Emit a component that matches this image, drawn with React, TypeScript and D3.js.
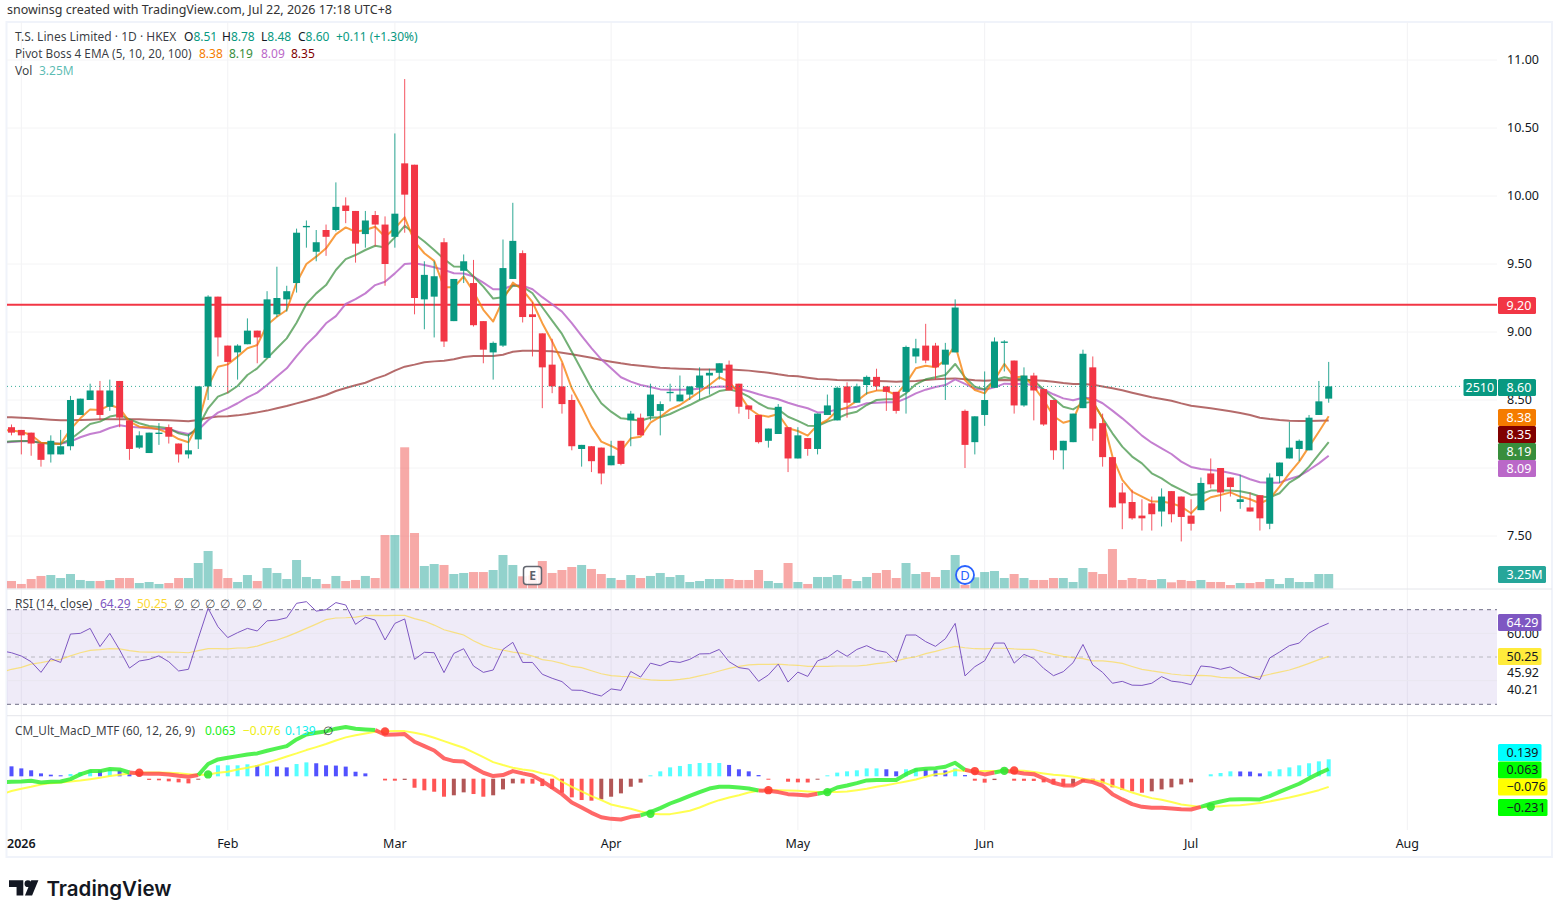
import * as d3 from 'd3'

const opens = [
  8.30,8.28,8.26,8.18,8.10,8.10,8.16,8.39,8.50,8.57,
  8.45,8.64,8.35,8.15,8.11,8.25,8.30,8.18,8.10,8.21,
  8.60,9.26,8.90,8.85,8.91,9.01,8.81,9.13,9.24,9.36,
  9.77,9.59,9.75,9.75,9.93,9.89,9.72,9.86,9.79,9.70,
  10.24,10.23,9.24,9.26,9.66,9.08,9.45,9.36,9.08,8.85,
  8.90,9.39,9.58,9.13,8.99,8.76,8.60,8.50,8.14,8.16,
  8.15,8.02,8.20,8.35,8.37,8.38,8.42,8.55,8.49,8.54,
  8.59,8.68,8.70,8.76,8.62,8.46,8.39,8.20,8.25,8.30,
  8.07,8.22,8.14,8.39,8.35,8.60,8.48,8.61,8.67,8.60,
  8.56,8.56,8.82,8.90,8.90,8.76,8.85,8.42,8.19,8.39,
  8.59,8.92,8.79,8.46,8.68,8.58,8.50,8.13,8.19,8.44,
  8.74,8.33,8.08,7.82,7.75,7.65,7.74,7.68,7.83,7.79,
  7.65,7.69,7.96,8.00,7.93,7.75,7.71,7.80,7.59,7.94,
  8.07,8.14,8.13,8.39,8.51,
]
const closes = [
  8.26,8.24,8.18,8.06,8.20,8.16,8.50,8.51,8.57,8.39,
  8.57,8.37,8.14,8.24,8.26,8.26,8.23,8.10,8.13,8.60,
  9.26,8.96,8.78,8.90,9.01,8.96,9.24,9.25,9.30,9.73,
  9.78,9.66,9.70,9.92,9.89,9.65,9.82,9.79,9.50,9.87,
  10.01,9.25,9.42,9.41,8.93,9.39,9.52,9.05,8.87,8.92,
  9.47,9.67,9.11,9.11,8.74,8.60,8.47,8.16,8.17,8.05,
  7.96,8.09,8.03,8.40,8.24,8.54,8.47,8.56,8.54,8.60,
  8.68,8.70,8.77,8.57,8.45,8.43,8.19,8.29,8.45,8.07,
  8.24,8.14,8.40,8.46,8.59,8.48,8.60,8.67,8.60,8.56,
  8.42,8.89,8.88,8.79,8.74,8.87,9.18,8.17,8.38,8.50,
  8.93,8.93,8.46,8.68,8.57,8.32,8.13,8.20,8.40,8.84,
  8.29,8.08,7.71,7.74,7.63,7.63,7.66,7.79,7.66,7.64,
  7.59,7.89,7.88,7.82,7.86,7.77,7.68,7.63,7.93,8.04,
  8.15,8.20,8.37,8.49,8.60,
]
const highs = [
  8.32,8.28,8.26,8.18,8.24,8.28,8.53,8.51,8.62,8.64,
  8.65,8.64,8.35,8.27,8.26,8.33,8.32,8.18,8.25,8.60,
  9.27,9.26,8.90,8.91,9.10,9.01,9.30,9.48,9.34,9.76,
  9.82,9.75,9.79,10.10,9.99,9.89,9.89,9.89,9.85,10.46,
  10.86,10.23,9.52,9.52,9.69,9.39,9.57,9.53,9.08,8.93,
  9.68,9.95,9.60,9.22,8.99,8.95,8.77,8.54,8.17,8.16,
  8.15,8.20,8.20,8.42,8.40,8.62,8.49,8.62,8.68,8.60,
  8.74,8.73,8.77,8.79,8.62,8.46,8.39,8.29,8.47,8.30,
  8.30,8.22,8.40,8.54,8.60,8.63,8.62,8.68,8.73,8.60,
  8.56,8.90,8.95,9.06,8.92,8.92,9.24,8.43,8.38,8.71,
  8.96,8.94,8.79,8.74,8.70,8.58,8.50,8.20,8.40,8.87,
  8.82,8.40,8.08,7.89,7.84,7.77,7.79,7.85,7.83,7.79,
  7.77,7.93,8.07,8.00,7.93,7.95,7.82,7.80,7.96,8.04,
  8.34,8.21,8.39,8.64,8.78,
]
const lows = [
  8.24,8.10,8.09,8.01,8.04,8.10,8.13,8.39,8.50,8.35,
  8.42,8.30,8.06,8.14,8.11,8.17,8.18,8.04,8.07,8.14,
  8.50,8.82,8.55,8.65,8.91,8.77,8.81,9.11,9.15,9.29,
  9.62,9.52,9.56,9.74,9.80,9.51,9.62,9.63,9.34,9.62,
  9.73,9.13,9.02,8.96,8.89,9.08,9.36,9.04,8.77,8.65,
  8.89,9.39,9.07,8.82,8.44,8.55,8.40,8.13,8.01,7.97,
  7.88,8.02,8.02,8.16,8.24,8.35,8.24,8.49,8.49,8.50,
  8.50,8.54,8.65,8.57,8.40,8.36,8.18,8.15,8.25,7.97,
  8.07,8.09,8.10,8.39,8.35,8.37,8.48,8.54,8.57,8.42,
  8.40,8.40,8.77,8.77,8.65,8.50,8.85,8.00,8.10,8.31,
  8.59,8.71,8.40,8.45,8.35,8.31,8.06,7.99,8.19,8.44,
  8.20,8.01,7.71,7.55,7.62,7.54,7.54,7.57,7.60,7.46,
  7.54,7.69,7.85,7.68,7.79,7.70,7.68,7.54,7.55,7.89,
  8.07,8.05,8.13,8.39,8.48,
]
// millions of shares
const volumes = [
  1.66,0.98,2.11,2.80,3.02,2.34,3.25,1.89,1.66,1.66,
  1.89,2.34,2.34,1.20,1.43,0.98,1.20,2.34,2.34,5.75,
  8.48,4.39,2.34,1.43,3.02,1.66,4.61,3.48,2.11,6.43,
  2.57,2.11,0.98,2.80,1.66,1.89,2.80,2.34,12.11,12.11,
  32.05,12.57,5.07,5.52,5.30,3.25,3.48,3.70,3.70,4.16,
  7.57,5.30,2.73,2.95,6.20,3.48,4.16,4.84,5.30,4.39,
  3.25,2.34,1.89,3.02,2.34,2.80,3.48,2.57,3.02,1.43,
  1.66,2.11,2.11,2.11,1.89,1.89,4.16,1.66,1.20,5.75,
  1.43,0.98,2.57,2.57,3.02,2.11,1.66,2.57,3.48,4.16,
  2.34,5.75,3.25,3.70,2.57,4.16,7.57,0.75,2.50,3.70,
  3.93,2.34,3.25,2.34,1.89,1.89,2.34,2.34,1.43,4.61,
  3.70,3.25,8.93,1.89,2.34,2.11,1.89,2.11,1.36,1.89,
  1.66,1.89,1.43,1.43,0.75,1.20,1.20,1.43,2.11,0.98,
  2.34,1.43,1.43,3.25,3.25,
]

// line series start one bar before the first candle, off the left edge
const ema5 = [
  8.28,8.275,8.267,8.243,8.186,8.182,8.177,8.284,8.365,8.431,8.427,8.463,8.439,8.341,8.304,8.297,8.284,8.255,8.213,8.189,
  8.329,8.598,8.745,8.762,8.819,8.880,8.904,9.051,9.112,9.162,9.362,9.500,9.554,9.615,9.718,9.769,9.737,9.750,9.774,9.700,
  9.762,9.843,9.665,9.579,9.523,9.329,9.329,9.408,9.297,9.163,9.077,9.236,9.363,9.310,9.219,9.065,8.930,8.782,8.586,8.451,
  8.304,8.194,8.162,8.125,8.218,8.230,8.333,8.377,8.431,8.463,8.512,8.561,8.610,8.667,8.635,8.549,8.439,8.390,8.377,8.397,
  8.292,8.272,8.238,8.316,8.353,8.422,8.446,8.493,8.549,8.569,8.569,8.537,8.622,8.733,8.752,8.740,8.794,8.904,8.647,8.573,
  8.549,8.647,8.765,8.667,8.672,8.598,8.500,8.382,8.333,8.353,8.525,8.488,8.365,8.084,7.912,7.826,7.790,7.753,7.753,7.741,
  7.716,7.667,7.741,7.785,7.802,7.821,7.790,7.770,7.741,7.772,7.863,7.961,8.047,8.157,8.267,8.38,
]
const ema10 = [
  8.191,8.196,8.199,8.199,8.184,8.179,8.179,8.211,8.267,8.324,8.341,8.378,8.392,8.358,8.329,8.309,8.302,8.292,8.255,8.238,
  8.304,8.439,8.525,8.554,8.603,8.684,8.733,8.806,8.880,8.953,9.068,9.206,9.284,9.345,9.456,9.536,9.566,9.603,9.634,9.622,
  9.696,9.781,9.721,9.665,9.603,9.537,9.481,9.479,9.408,9.334,9.246,9.256,9.341,9.334,9.285,9.182,9.084,8.986,8.855,8.721,
  8.586,8.476,8.414,8.365,8.358,8.348,8.370,8.373,8.397,8.431,8.463,8.500,8.529,8.566,8.578,8.561,8.525,8.476,8.439,8.431,
  8.377,8.346,8.311,8.309,8.341,8.365,8.397,8.414,8.463,8.500,8.505,8.505,8.549,8.615,8.652,8.667,8.684,8.765,8.667,8.598,
  8.578,8.647,8.667,8.654,8.652,8.642,8.578,8.512,8.451,8.431,8.476,8.488,8.365,8.255,8.157,8.084,8.034,7.961,7.924,7.875,
  7.839,7.802,7.809,7.834,7.834,7.834,7.829,7.814,7.790,7.785,7.814,7.892,7.937,8.010,8.101,8.19,
]
const ema20 = [
  8.186,8.191,8.196,8.196,8.186,8.182,8.179,8.194,8.226,8.250,8.265,8.294,8.314,8.304,8.297,8.292,8.287,8.287,8.265,8.250,
  8.280,8.351,8.407,8.439,8.476,8.520,8.554,8.610,8.672,8.733,8.823,8.907,8.978,9.064,9.117,9.206,9.242,9.284,9.345,9.370,
  9.431,9.500,9.505,9.493,9.476,9.457,9.432,9.430,9.408,9.363,9.314,9.314,9.344,9.341,9.314,9.256,9.204,9.150,9.065,8.971,
  8.881,8.799,8.733,8.667,8.635,8.610,8.596,8.578,8.576,8.576,8.578,8.583,8.591,8.600,8.598,8.583,8.564,8.542,8.522,8.505,
  8.480,8.458,8.439,8.409,8.412,8.431,8.439,8.451,8.476,8.480,8.483,8.483,8.512,8.549,8.576,8.596,8.610,8.652,8.618,8.583,
  8.576,8.593,8.620,8.618,8.620,8.608,8.578,8.542,8.512,8.498,8.517,8.512,8.476,8.422,8.365,8.304,8.238,8.186,8.145,8.103,
  8.047,8.008,7.993,7.985,7.978,7.963,7.946,7.917,7.895,7.892,7.892,7.919,7.941,7.985,8.034,8.09,
]
const ema100 = [
  8.375,8.373,8.370,8.365,8.360,8.355,8.351,8.351,8.353,8.355,8.358,8.358,8.358,8.358,8.358,8.355,8.353,8.351,8.348,8.343,
  8.353,8.370,8.378,8.380,8.387,8.397,8.409,8.422,8.439,8.456,8.475,8.495,8.515,8.537,8.566,8.588,8.608,8.627,8.657,8.681,
  8.716,8.745,8.760,8.777,8.784,8.789,8.799,8.816,8.823,8.823,8.823,8.833,8.855,8.863,8.863,8.860,8.858,8.848,8.836,8.823,
  8.811,8.794,8.782,8.770,8.760,8.752,8.745,8.738,8.733,8.730,8.728,8.725,8.725,8.725,8.725,8.721,8.716,8.708,8.701,8.689,
  8.679,8.674,8.664,8.654,8.652,8.647,8.645,8.645,8.642,8.640,8.637,8.635,8.637,8.640,8.647,8.652,8.657,8.659,8.652,8.645,
  8.642,8.645,8.647,8.645,8.647,8.645,8.642,8.635,8.625,8.618,8.618,8.613,8.600,8.586,8.571,8.554,8.537,8.520,8.507,8.495,
  8.475,8.458,8.448,8.439,8.429,8.417,8.404,8.390,8.370,8.360,8.353,8.348,8.346,8.346,8.348,8.35,
]

const rsi = [
  52.6,51.8,50.4,48.0,43.5,49.3,47.7,59.7,60.0,62.1,54.4,60.0,53.0,45.3,48.3,49.0,50.5,48.0,44.1,44.8,
  57.9,70.6,62.8,58.2,60.3,62.1,61.0,65.3,65.6,66.6,72.7,73.4,69.4,70.0,73.0,72.0,63.8,66.8,65.6,57.2,
  64.2,66.1,49.0,52.0,51.8,43.4,51.5,53.5,46.2,43.5,44.5,53.2,56.2,47.7,47.7,42.7,41.0,39.6,36.0,35.9,
  34.6,33.5,36.5,35.9,43.9,41.5,47.4,46.3,48.2,47.7,49.0,51.3,51.4,53.2,48.0,45.5,44.9,39.7,42.4,47.0,
  39.4,43.6,41.8,48.4,49.8,52.8,50.3,53.2,54.8,52.8,52.0,47.9,59.3,59.3,56.5,54.5,57.7,64.2,42.0,45.9,
  48.4,55.9,55.9,47.4,51.1,49.4,45.2,42.1,43.8,47.6,55.3,46.6,43.5,38.9,39.7,38.1,38.0,38.9,41.7,39.8,
  39.3,38.3,46.2,45.8,44.8,45.8,43.4,41.7,40.5,49.6,52.1,54.8,55.9,60.1,62.5,64.29,
]
const rsiMa = [
  43.6,44.8,45.6,47.0,47.6,48.4,49.0,50.5,51.8,52.8,53.1,53.5,53.4,52.7,52.2,52.1,52.1,52.1,52.0,51.8,
  52.7,53.5,53.5,53.4,53.8,53.9,54.6,56.0,57.2,58.6,60.3,62.1,63.9,65.8,66.5,66.6,66.9,67.5,67.6,67.5,
  67.6,67.6,66.2,65.2,63.5,61.5,60.4,59.3,56.9,54.9,53.7,52.9,52.1,51.5,50.4,48.9,48.3,47.3,46.0,45.5,
  44.2,42.9,42.1,41.8,41.7,40.8,40.3,40.1,40.1,40.5,41.1,42.0,42.9,44.1,45.2,46.0,46.7,46.9,46.9,47.0,
  46.7,46.5,46.0,46.0,46.0,46.2,46.2,46.2,46.6,47.2,47.6,48.3,49.4,50.1,51.4,52.4,53.5,54.5,53.9,53.5,
  53.4,53.7,53.7,53.4,53.2,53.2,52.1,51.1,50.3,49.7,49.3,48.4,48.4,47.9,47.3,46.0,44.8,44.1,43.5,42.8,
  42.4,42.1,42.2,42.0,41.4,41.2,41.2,41.4,41.7,42.7,43.6,44.5,45.8,47.3,48.9,50.25,
]

const macd = [
  -0.039,-0.036,-0.034,-0.029,-0.042,-0.036,-0.034,-0.016,0.021,0.047,0.047,0.063,0.060,0.036,0.029,0.026,0.026,0.021,0.010,0.003,
  0.016,0.102,0.138,0.151,0.164,0.177,0.185,0.206,0.224,0.242,0.294,0.333,0.346,0.357,0.378,0.391,0.378,0.372,0.367,0.331,
  0.333,0.336,0.276,0.242,0.208,0.146,0.125,0.122,0.076,0.034,0.008,0.016,0.047,0.029,0.013,-0.031,-0.081,-0.133,-0.198,-0.237,
  -0.279,-0.313,-0.326,-0.331,-0.310,-0.299,-0.273,-0.242,-0.206,-0.177,-0.146,-0.117,-0.089,-0.076,-0.076,-0.081,-0.089,-0.104,-0.107,-0.117,
  -0.133,-0.138,-0.143,-0.130,-0.115,-0.081,-0.065,-0.047,-0.026,-0.023,-0.023,-0.023,0.023,0.057,0.065,0.070,0.081,0.112,0.057,0.039,
  0.021,0.036,0.052,0.039,0.029,0.023,-0.010,-0.044,-0.065,-0.065,-0.026,-0.039,-0.068,-0.133,-0.174,-0.211,-0.232,-0.240,-0.240,-0.245,
  -0.250,-0.253,-0.232,-0.208,-0.190,-0.174,-0.172,-0.172,-0.174,-0.148,-0.115,-0.083,-0.052,-0.010,0.029,0.063,
]
const signal = [
  -0.133,-0.109,-0.091,-0.076,-0.057,-0.047,-0.042,-0.034,-0.026,-0.016,-0.005,0.008,0.018,0.029,0.034,0.036,0.036,0.034,0.031,0.023,
  0.016,0.021,0.034,0.042,0.060,0.073,0.089,0.112,0.135,0.161,0.185,0.211,0.234,0.258,0.286,0.310,0.326,0.341,0.354,0.357,
  0.359,0.359,0.346,0.331,0.307,0.281,0.255,0.229,0.193,0.156,0.117,0.094,0.073,0.060,0.049,0.029,0.013,-0.036,-0.076,-0.112,
  -0.148,-0.180,-0.214,-0.232,-0.247,-0.268,-0.286,-0.289,-0.289,-0.276,-0.263,-0.237,-0.206,-0.180,-0.159,-0.141,-0.120,-0.107,-0.102,-0.102,
  -0.104,-0.107,-0.112,-0.117,-0.117,-0.117,-0.112,-0.102,-0.091,-0.076,-0.063,-0.049,-0.034,-0.018,0.003,0.023,0.029,0.055,0.047,0.047,
  0.047,0.047,0.049,0.052,0.049,0.039,0.029,0.018,0.013,0.003,-0.013,-0.023,-0.039,-0.068,-0.094,-0.120,-0.143,-0.164,-0.177,-0.195,
  -0.214,-0.224,-0.234,-0.232,-0.227,-0.221,-0.219,-0.211,-0.203,-0.190,-0.174,-0.159,-0.141,-0.122,-0.102,-0.076,
]
const hist = [
  0.084,0.068,0.053,0.029,0.019,0.014,0.024,0.040,0.055,0.053,
  0.061,0.053,0.029,0.022,-0.022,-0.025,-0.033,-0.041,-0.049,-0.020,
  0.014,0.092,0.092,0.092,0.100,0.092,0.092,0.082,0.076,0.102,
  0.115,0.108,0.092,0.090,0.082,0.042,0.029,0,-0.026,-0.028,
  -0.022,-0.083,-0.103,-0.114,-0.153,-0.142,-0.119,-0.132,-0.153,-0.142,
  -0.096,-0.049,-0.050,-0.051,-0.070,-0.093,-0.122,-0.158,-0.179,-0.184,
  -0.174,-0.153,-0.127,-0.075,-0.043,0.014,0.045,0.076,0.087,0.102,
  0.110,0.110,0.110,0.095,0.061,0.045,0.016,-0.020,0,-0.036,
  -0.041,-0.042,-0.020,0.014,0.035,0.045,0.053,0.068,0.068,0.061,
  0.045,0.061,0.068,0.061,0.053,0.052,0.068,0.016,-0.028,-0.043,
  -0.023,0,-0.028,-0.029,-0.030,-0.041,-0.057,-0.070,-0.068,-0.036,
  -0.037,-0.049,-0.080,-0.101,-0.111,-0.122,-0.111,-0.096,-0.080,-0.057,
  -0.041,0,0.022,0.032,0.045,0.044,0.043,0.029,0.045,0.061,
  0.076,0.092,0.108,0.123,0.139,
]
// bars where the MACD crosses its signal line
const crossBars = [13, 20, 38, 65, 77, 83, 98, 101, 102, 122]

const priceTicks = [11, 10.5, 10, 9.5, 9, 8.5, 7.5]
const rsiGrid = [60, 40]
const rsiBands = [70, 50, 30]
const monthLabels = ['2026', 'Feb', 'Mar', 'Apr', 'May', 'Jun', 'Jul', 'Aug']
const monthBars = [1, 22, 39, 61, 80, 99, 120, 142]

const UP = '#089981'
const DOWN = '#f23645'
const FONT = "'Noto Sans', 'Open Sans', sans-serif"
const paneLeft = 7
const paneRight = 1497
const chartRight = 1552

const x = d3.scaleLinear().domain([0, 134]).range([11.5, 1328.7])
const yPrice = d3.scaleLinear().domain([7.5, 11]).range([536, 60])
const yVol = d3.scaleLinear().domain([0, 32.05]).range([588.3, 447.3])
const yRsi = d3.scaleLinear().domain([30, 70]).range([704.3, 609.7])
const yMacd = d3.scaleLinear().domain([-0.231, 0.139]).range([806.7, 759.3])

const barIndex = d3.range(opens.length)
const isUp = (i: number) => closes[i] >= opens[i]

const lineFor = (y: d3.ScaleLinear<number, number>) =>
  d3.line<number>().x((_, k) => x(k - 1)).y((v) => y(v))

// same thing for a slice of a series that starts at bar `first`
const runPath = (values: number[], first: number) =>
  d3.line<number>().x((_, k) => x(first + k)).y((v) => yMacd(v))(values) ?? ''

function histColor(i: number) {
  const prev = i > 0 ? hist[i - 1] : hist[i] + 1
  if (hist[i] >= 0) return hist[i] >= prev ? '#55ffff' : '#5252ff'
  return hist[i] < prev ? '#ff5555' : '#b25656'
}

function macdRuns() {
  const edges = [0, ...crossBars, 135]
  return edges.slice(0, -1).map((start, k) => ({
    start,
    end: edges[k + 1],
    up: k % 2 === 0,
  }))
}

function Label({ y, text, fill, color = '#fff', width = 38, left = paneRight + 1, pad = 5 }: {
  y: number
  text: string
  fill: string
  color?: string
  width?: number
  left?: number
  pad?: number
}) {
  return (
    <g>
      <rect x={left} y={y - 8.5} width={width} height={17} rx={1.5} fill={fill} />
      <text x={left + pad} y={y + 4.3} fontSize={12.5} fill={color}>
        {text}
      </text>
    </g>
  )
}

export default function App() {
  const bodyW = 7
  const volW = 9
  const histW = 4
  const lastY = yPrice(closes[134])

  return (
    <svg
      width={1562}
      height={912}
      viewBox="0 0 1562 912"
      style={{ position: 'absolute', left: 0, top: 0, display: 'block', background: '#fff' }}
      fontFamily={FONT}
    >
      <defs>
        <clipPath id="pane">
          <rect x={paneLeft} y={22} width={paneRight - paneLeft} height={808} />
        </clipPath>
      </defs>

      <text x={7} y={14} fontSize={12.5} fill="#333">
        snowinsg created with TradingView.com, Jul 22, 2026 17:18 UTC+8
      </text>

      {/* frame */}
      <rect x={6.5} y={22} width={chartRight - 6.5} height={835} fill="#fff" stroke="#f0f3fa" strokeWidth={2} />

      {/* grid */}
      {monthBars.map((b) => (
        <line key={b} x1={x(b)} x2={x(b)} y1={22} y2={830} stroke="#f2f2f4" />
      ))}
      {priceTicks.map((t) => (
        <line key={t} x1={paneLeft} x2={paneRight} y1={yPrice(t)} y2={yPrice(t)} stroke="#f4f4f5" />
      ))}
      <line x1={paneLeft} x2={paneRight} y1={yPrice(8)} y2={yPrice(8)} stroke="#f4f4f5" />

      {/* pane separators */}
      <line x1={paneLeft} x2={chartRight} y1={589} y2={589} stroke="#e4e5ea" />
      <line x1={paneLeft} x2={chartRight} y1={715.7} y2={715.7} stroke="#e4e5ea" />

      {/* volume */}
      {barIndex.map((i) => (
        <rect
          key={i}
          x={x(i) - volW / 2}
          y={yVol(volumes[i])}
          width={volW}
          height={yVol(0) - yVol(volumes[i])}
          fill={isUp(i) ? '#26a69a' : '#ef5350'}
          fillOpacity={0.5}
        />
      ))}

      <line x1={paneLeft} x2={paneRight} y1={yPrice(9.2)} y2={yPrice(9.2)} stroke={DOWN} strokeWidth={2} />

      {/* moving averages */}
      <g fill="none" strokeWidth={2} strokeLinejoin="round" clipPath="url(#pane)">
        <path d={lineFor(yPrice)(ema100) ?? ''} stroke="#800000" strokeOpacity={0.58} />
        <path d={lineFor(yPrice)(ema20) ?? ''} stroke="#ba68c8" strokeOpacity={0.85} />
        <path d={lineFor(yPrice)(ema10) ?? ''} stroke="#388e3c" strokeOpacity={0.7} />
        <path d={lineFor(yPrice)(ema5) ?? ''} stroke="#f57c00" strokeOpacity={0.75} />
      </g>

      {/* candles */}
      {barIndex.map((i) => {
        const color = isUp(i) ? UP : DOWN
        const top = yPrice(Math.max(opens[i], closes[i]))
        const bottom = yPrice(Math.min(opens[i], closes[i]))
        return (
          <g key={i}>
            <line x1={x(i)} x2={x(i)} y1={yPrice(highs[i])} y2={yPrice(lows[i])} stroke={color} strokeOpacity={0.85} />
            <rect x={x(i) - bodyW / 2} y={top} width={bodyW} height={Math.max(bottom - top, 1)} fill={color} />
          </g>
        )
      })}

      <line
        x1={paneLeft}
        x2={paneRight - 34}
        y1={lastY}
        y2={lastY}
        stroke={UP}
        strokeOpacity={0.8}
        strokeDasharray="1 3"
      />

      {/* earnings and dividend markers */}
      <rect x={523.5} y={566.5} width={18} height={18} rx={3} fill="#fff" fillOpacity={0.85} stroke="#63666f" strokeWidth={1.5} />
      <text x={532.5} y={580} textAnchor="middle" fontSize={12} fontWeight={700} fill="#5d606b">
        E
      </text>
      <circle cx={965} cy={575} r={9} fill="#fff" fillOpacity={0.85} stroke="#2962ff" strokeWidth={1.8} />
      <text x={965} y={580} textAnchor="middle" fontSize={13} fill="#2962ff">
        D
      </text>

      {/* RSI */}
      <rect
        x={paneLeft}
        y={yRsi(70)}
        width={paneRight - paneLeft}
        height={yRsi(30) - yRsi(70)}
        fill="#7e57c2"
        fillOpacity={0.12}
      />
      {rsiGrid.map((t) => (
        <line key={t} x1={paneLeft} x2={paneRight} y1={yRsi(t)} y2={yRsi(t)} stroke="#e9e7f0" />
      ))}
      {rsiBands.map((t) => (
        <line
          key={t}
          x1={paneLeft}
          x2={paneRight}
          y1={yRsi(t)}
          y2={yRsi(t)}
          stroke={t === 50 ? '#b8b8c0' : '#6f6d85'}
          strokeDasharray="4 4"
        />
      ))}
      <g fill="none" clipPath="url(#pane)">
        <path d={lineFor(yRsi)(rsiMa) ?? ''} stroke="#fdd835" strokeOpacity={0.6} strokeWidth={1.2} />
        <path d={lineFor(yRsi)(rsi) ?? ''} stroke="#7e57c2" strokeWidth={1} />
      </g>

      {/* MACD histogram */}
      {barIndex
        .filter((i) => hist[i] !== 0)
        .map((i) => {
          const up = hist[i] > 0
          const h = Math.abs(yMacd(hist[i]) - yMacd(0))
          return (
            <rect
              key={i}
              x={x(i) - histW / 2}
              y={up ? yMacd(hist[i]) : yMacd(0) + 1.6}
              width={histW}
              height={Math.max(up ? h - 0.8 : h - 1.6, 1)}
              fill={histColor(i)}
            />
          )
        })}

      <g fill="none" clipPath="url(#pane)" strokeLinejoin="round">
        <path d={lineFor(yMacd)(signal) ?? ''} stroke="#ffff33" strokeWidth={2} strokeOpacity={0.85} />
        {macdRuns().map((run) => {
          // arrays carry the extra leading point, so bar b is at b + 1
          const first = Math.max(run.start - 1, -1)
          return (
            <path
              key={run.start}
              d={runPath(macd.slice(first + 1, run.end + 1), first)}
              stroke={run.up ? '#33ee33' : '#ff4d4d'}
              strokeOpacity={0.85}
              strokeWidth={4}
            />
          )
        })}
      </g>
      {crossBars.map((b, k) => (
        <circle
          key={b}
          cx={x(b)}
          cy={yMacd(signal[b + 1])}
          r={4.2}
          fill={k % 2 === 0 ? '#ff3b30' : '#33e633'}
          fillOpacity={0.9}
        />
      ))}

      {/* price axis */}
      {priceTicks.map((t) => (
        <text key={t} x={1507} y={yPrice(t) + 4.3} fontSize={12.5} fill="#131722">
          {t.toFixed(2)}
        </text>
      ))}
      <Label y={305.5} text="9.20" fill={DOWN} pad={8.5} />
      <Label y={387.5} text="8.60" fill={UP} pad={8.5} />
      <Label y={387.5} text="2510" fill={UP} left={1463.5} width={33.5} pad={2} />
      <Label y={417.5} text="8.38" fill="#f57c00" pad={8.5} />
      <Label y={434.5} text="8.35" fill="#800000" pad={8.5} />
      <Label y={451.5} text="8.19" fill="#388e3c" pad={8.5} />
      <Label y={468.5} text="8.09" fill="#ba68c8" pad={8.5} />
      <Label y={574.5} text="3.25M" fill="#26a69a" width={48} pad={8.5} />

      {/* RSI axis */}
      <text x={1507} y={yRsi(60) + 4.3} fontSize={12.5} fill="#131722">60.00</text>
      <text x={1507} y={677.3} fontSize={12.5} fill="#131722">45.92</text>
      <text x={1507} y={694.3} fontSize={12.5} fill="#131722">40.21</text>
      <Label y={622.5} text="64.29" fill="#7e57c2" width={43.5} pad={8.5} />
      <Label y={656.5} text="50.25" fill="#ffeb3b" color="#131722" width={43.5} pad={8.5} />

      {/* MACD axis */}
      <Label y={752.5} text="0.139" fill="#00ffff" color="#131722" width={43.5} pad={8.5} />
      <Label y={770} text="0.063" fill="#00ff00" color="#131722" width={43.5} pad={8.5} />
      <Label y={787} text="−0.076" fill="#ffff00" color="#131722" width={49.5} pad={8.5} />
      <Label y={807.5} text="−0.231" fill="#00ff00" color="#131722" width={49.5} pad={8.5} />

      {/* time axis */}
      {monthLabels.map((m, k) => (
        <text
          key={m}
          x={k === 0 ? paneLeft : x(monthBars[k])}
          y={848}
          textAnchor={k === 0 ? 'start' : 'middle'}
          fontSize={12.5}
          fontWeight={k === 0 ? 600 : 400}
          fill="#131722"
        >
          {m}
        </text>
      ))}

      {/* legends */}
      <g fontSize={12}>
        <text y={41} fill="#131722">
          <tspan x={15} fillOpacity={0.85}>T.S. Lines Limited · 1D · HKEX</tspan>
          <tspan x={184}>O</tspan><tspan fill={UP}>8.51</tspan>
          <tspan x={222}>H</tspan><tspan fill={UP}>8.78</tspan>
          <tspan x={261}>L</tspan><tspan fill={UP}>8.48</tspan>
          <tspan x={298}>C</tspan><tspan fill={UP}>8.60</tspan>
          <tspan x={336} fill={UP}>+0.11 (+1.30%)</tspan>
        </text>
        <text y={58} fill="#131722" fontSize={11.75}>
          <tspan x={15} fillOpacity={0.85}>Pivot Boss 4 EMA (5, 10, 20, 100)</tspan>
          <tspan x={199} fontSize={12} fill="#f57c00">8.38</tspan>
          <tspan x={229} fontSize={12} fill="#388e3c">8.19</tspan>
          <tspan x={261} fontSize={12} fill="#ba68c8">8.09</tspan>
          <tspan x={291} fontSize={12} fill="#800000">8.35</tspan>
        </text>
        <text y={75} fill="#131722">
          <tspan x={15} fillOpacity={0.85}>Vol</tspan>
          <tspan x={39} fill="#26a69a" fillOpacity={0.75}>3.25M</tspan>
        </text>
        <text y={608} fill="#131722">
          <tspan x={15} fillOpacity={0.85}>RSI (14, close)</tspan>
          <tspan x={100} fill="#7e57c2">64.29</tspan>
          <tspan x={137} fill="#fdd835">50.25</tspan>
          {[174, 190, 205, 220, 236, 252].map((px) => (
            <tspan key={px} x={px} fillOpacity={0.8}>∅</tspan>
          ))}
        </text>
        <text y={735} fill="#131722" fontSize={11.75}>
          <tspan x={15} fillOpacity={0.85}>CM_Ult_MacD_MTF (60, 12, 26, 9)</tspan>
          <tspan x={205} fontSize={12} fill="#22ee22">0.063</tspan>
          <tspan x={243} fontSize={12} fill="#eeee11">−0.076</tspan>
          <tspan x={285} fontSize={12} fill="#11eeee">0.139</tspan>
          <tspan x={323} fontSize={12} fillOpacity={0.8}>∅</tspan>
        </text>
      </g>

      {/* logo */}
      <g fill="#131722" transform="translate(9, 880.3) scale(0.84)">
        <path d="M17 18H9V8H0V0h17v18zM35 0H26.5L19 18h8.5L35 0z" />
        <circle cx={22.5} cy={4} r={4} />
      </g>
      <text x={46.5} y={895.5} fontFamily="Inter, 'Noto Sans', sans-serif" fontSize={20.5} fontWeight={600} fill="#131722">
        TradingView
      </text>
    </svg>
  )
}
